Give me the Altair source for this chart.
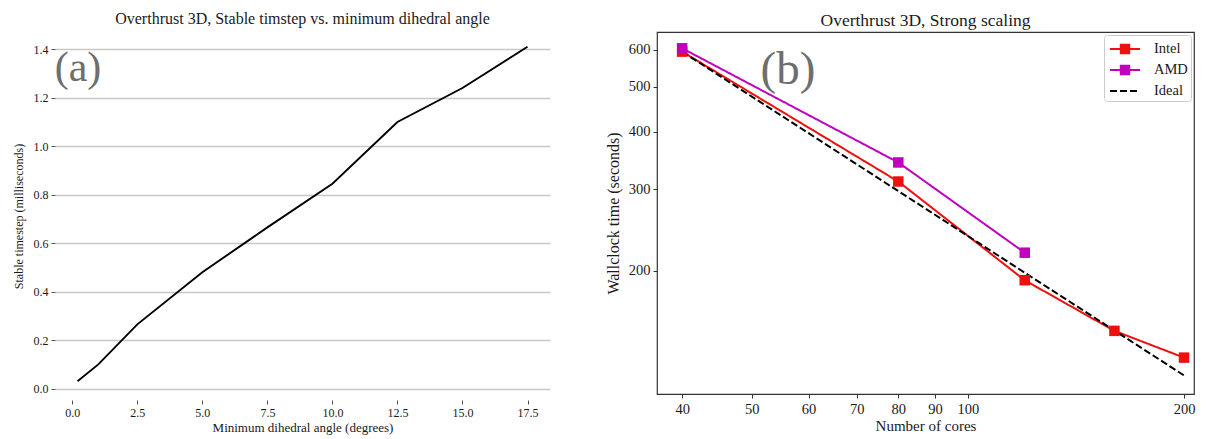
import altair as alt
import pandas as pd

# ---------------- data: panel (a) ----------------
angle_deg = [0.2, 1.0, 2.5, 5.0, 7.5, 10.0, 12.5, 15.0, 17.5]
timestep_ms = [0.03, 0.10, 0.265, 0.48, 0.665, 0.845, 1.10, 1.24, 1.41]
a_xticks = [0.0, 2.5, 5.0, 7.5, 10.0, 12.5, 15.0, 17.5]
a_yticks = [0.0, 0.2, 0.4, 0.6, 0.8, 1.0, 1.2, 1.4]

# ---------------- data: panel (b) ----------------
series = ["Intel", "AMD", "Ideal"]
intel_cores = [40, 80, 120, 160, 200]
intel_time = [595, 312, 191, 148.5, 130]
amd_cores = [40, 80, 120]
amd_time = [605, 343, 219]
ideal_cores = [40, 80, 120, 160, 200]
ideal_time = [595, 297.5, 198.3, 148.75, 119]
b_xticks = [40, 50, 60, 70, 80, 90, 100, 200]
b_yticks = [200, 300, 400, 500, 600]
panel_labels = ["(a)", "(b)"]

FONT = "Liberation Serif"
TXT = "#1a1a1a"

df_a = pd.DataFrame({"angle": angle_deg, "dt": timestep_ms})

rows = []
for c, t in zip(intel_cores, intel_time):
    rows.append({"series": "Intel", "cores": c, "time": t})
for c, t in zip(amd_cores, amd_time):
    rows.append({"series": "AMD", "cores": c, "time": t})
for c, t in zip(ideal_cores, ideal_time):
    rows.append({"series": "Ideal", "cores": c, "time": t})
df_b = pd.DataFrame(rows)

colors = ["#f00f0f", "#bf00bf", "#000000"]
dashes = [[1, 0], [1, 0], [7, 3]]
line_sq = "M-1.5,0H1.5M-0.42,-0.42H0.42V0.42H-0.42Z"
line_only = "M-1.5,0H1.5"

# ---------------- panel (a) ----------------
xa = alt.X(
    "angle:Q",
    scale=alt.Scale(domain=[-0.665, 18.365], nice=False, zero=False),
    axis=alt.Axis(
        values=a_xticks, format=".1f", grid=False, domain=False,
        tickSize=4, tickColor="#555555", labelPadding=3,
        labelFont=FONT, labelFontSize=12, labelColor=TXT,
        title="Minimum dihedral angle (degrees)", titleFont=FONT,
        titleFontSize=13, titleFontWeight="normal", titleColor=TXT, titlePadding=3,
    ),
)
ya = alt.Y(
    "dt:Q",
    scale=alt.Scale(domain=[-0.047, 1.471], nice=False, zero=False),
    axis=alt.Axis(
        values=a_yticks, format=".1f", grid=True, gridColor="#c8c8c8", gridWidth=1.3,
        domain=False, tickSize=4, tickColor="#555555", labelPadding=3,
        labelFont=FONT, labelFontSize=12, labelColor=TXT,
        title="Stable timestep (milliseconds)", titleFont=FONT,
        titleFontSize=12, titleFontWeight="normal", titleColor=TXT, titlePadding=8,
    ),
)
line_a = alt.Chart(df_a).mark_line(color="#000000", strokeWidth=1.9).encode(x=xa, y=ya)
label_a = alt.Chart(alt.Data(values=[{"t": panel_labels[0]}])).mark_text(
    font=FONT, fontSize=42, color="#6e6e6e", align="center", baseline="middle"
).encode(x=alt.value(23), y=alt.value(36), text="t:N")

chart_a = alt.layer(line_a, label_a).properties(
    width=495, height=368,
    title=alt.TitleParams("Overthrust 3D, Stable timstep vs. minimum dihedral angle",
                          font=FONT, fontSize=16, fontWeight="normal", color=TXT, offset=5),
    view=alt.ViewBackground(stroke="transparent"),
)

# ---------------- panel (b) ----------------
xb = alt.X(
    "cores:Q",
    scale=alt.Scale(type="log", domain=[36.9, 206.5], nice=False),
    axis=alt.Axis(
        values=b_xticks, format="d", grid=False, domain=False,
        tickSize=4, tickColor="#333333", labelPadding=4,
        labelFont=FONT, labelFontSize=14.5, labelColor=TXT,
        title="Number of cores", titleFont=FONT,
        titleFontSize=15, titleFontWeight="normal", titleColor=TXT, titlePadding=3,
    ),
)
yb = alt.Y(
    "time:Q",
    scale=alt.Scale(type="log", domain=[108.5, 656], nice=False),
    axis=alt.Axis(
        values=b_yticks, format="d", grid=False, domain=False,
        tickSize=4, tickColor="#333333", labelPadding=3,
        labelFont=FONT, labelFontSize=14.5, labelColor=TXT,
        title="Wallclock time (seconds)", titleFont=FONT,
        titleFontSize=16, titleFontWeight="normal", titleColor=TXT, titlePadding=7,
    ),
)
cscale = alt.Scale(domain=series, range=colors)
dscale = alt.Scale(domain=series, range=dashes)

shape_sig = "datum.value === '%s' ? '%s' : '%s'" % (series[2], line_only, line_sq)
fill_sig = "datum.value === '%s' ? '%s' : datum.value === '%s' ? '%s' : 'transparent'" % (
    series[0], colors[0], series[1], colors[1])

leg = alt.Legend(
    title=None, orient="top-right", offset=3, padding=3,
    fillColor="#ffffff", strokeColor="#cccccc", cornerRadius=3,
    labelFont=FONT, labelFontSize=14.5, labelColor=TXT,
    symbolSize=400, symbolStrokeWidth=2, symbolOffset=7, labelOffset=18, rowPadding=1,
    symbolType=alt.ExprRef(expr=shape_sig),
    symbolFillColor=alt.ExprRef(expr=fill_sig),
)

lines_b = alt.Chart(df_b).mark_line(strokeWidth=2).encode(
    x=xb, y=yb,
    color=alt.Color("series:N", scale=cscale, legend=leg),
    strokeDash=alt.StrokeDash("series:N", scale=dscale, legend=leg),
)
points_b = alt.Chart(df_b).mark_point(filled=True, shape="square", size=110, opacity=1).encode(
    x=xb, y=yb,
    color=alt.Color("series:N", scale=cscale, legend=None),
).transform_filter("datum.series != 'Ideal'")

label_b = alt.Chart(alt.Data(values=[{"t": panel_labels[1]}])).mark_text(
    font=FONT, fontSize=47, color="#6e6e6e", align="center", baseline="middle"
).encode(x=alt.value(131), y=alt.value(38), text="t:N")

chart_b = alt.layer(lines_b, points_b, label_b).resolve_scale(
    color="independent", strokeDash="independent"
).properties(
    width=537, height=362,
    title=alt.TitleParams("Overthrust 3D, Strong scaling",
                          font=FONT, fontSize=17.5, fontWeight="normal", color=TXT, offset=3),
    view=alt.ViewBackground(stroke="#333333", strokeWidth=1.2),
)

chart = alt.hconcat(chart_a, chart_b, spacing=53).properties(
    padding={"left": 3, "top": 2, "right": 0, "bottom": 0}
).configure(background="white")

chart.save("out.html", embed_options={"renderer": "svg", "actions": False})
